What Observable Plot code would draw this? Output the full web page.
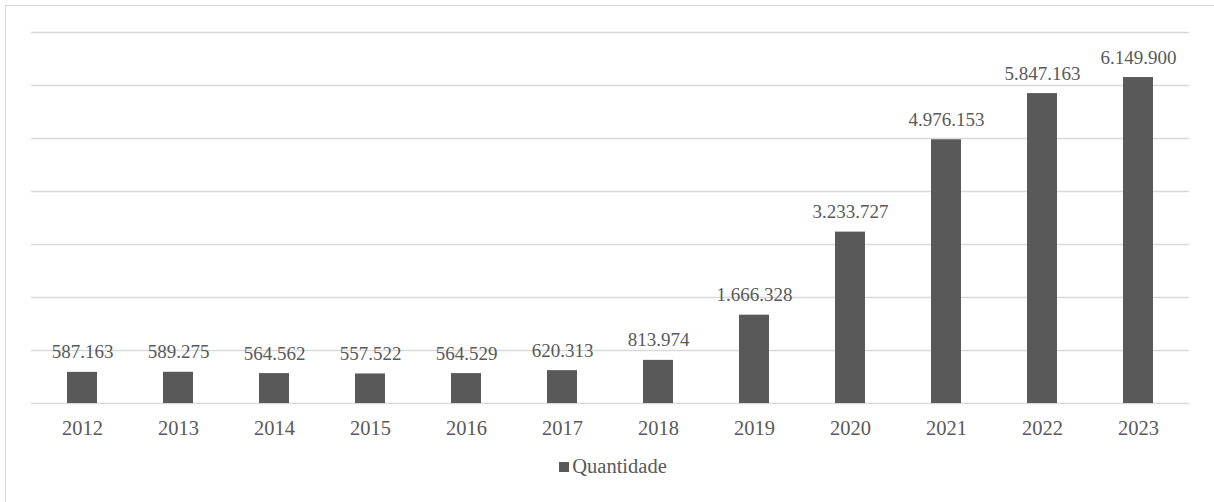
<!DOCTYPE html>
<html>
<head>
<meta charset="utf-8">
<script src="https://cdn.jsdelivr.net/npm/d3@7"></script>
<script src="https://cdn.jsdelivr.net/npm/@observablehq/plot@0.6"></script>
<style>
  html, body { margin: 0; padding: 0; background: #fff; overflow: hidden; }
  #wrap { position: relative; width: 1214px; height: 502px; overflow: hidden; }
  #frame { position: absolute; left: 5px; top: 5px; width: 1300px; height: 600px; border: 1.5px solid #d9d9d9; box-sizing: border-box; }
  #chart { position: absolute; left: 0; top: 0; }
  #legend { position: absolute; left: 0; top: 455px; width: 1226px; text-align: center; font-size: 20.5px; color: #595959;
    font-family: 'Liberation Serif', serif; }
  #legend .sw { display: inline-block; width: 10px; height: 10px; background: #595959; margin-right: 3px; vertical-align: 1px; }
</style>
</head>
<body>
<div id="wrap">
  <div id="frame"></div>
  <div id="chart"></div>
  <div id="legend"><span class="sw"></span><span id="lt"></span></div>
</div>
<script>
const years = ["2012","2013","2014","2015","2016","2017","2018","2019","2020","2021","2022","2023"];
const quantidade = [587163, 589275, 564562, 557522, 564529, 620313, 813974, 1666328, 3233727, 4976153, 5847163, 6149900];
const yTicks = [0, 1000000, 2000000, 3000000, 4000000, 5000000, 6000000, 7000000];
const seriesName = "Quantidade";

const data = years.map((y, i) => ({year: y, value: quantidade[i]}));
const fmt = d3.formatLocale({decimal: ",", thousands: ".", grouping: [3], currency: ["", ""]}).format(",d");

const chart = Plot.plot({
  width: 1214,
  height: 450,
  marginLeft: 31,
  marginRight: 25,
  marginTop: 32,
  marginBottom: 47,
  style: {color: "#595959", background: "transparent", fontFamily: "'Liberation Serif', serif"},
  x: {domain: years, paddingInner: 0.69, paddingOuter: 0.345, label: null},
  y: {domain: [0, 7000000], axis: null},
  marks: [
    Plot.ruleY(yTicks, {stroke: "#d9d9d9", strokeWidth: 1.3}),
    Plot.barY(data, {x: "year", y: "value", fill: "#595959"}),
    Plot.text(data, {x: "year", y: "value", text: d => fmt(d.value), dy: -20, lineAnchor: "middle", fontSize: 19, fill: "#595959"}),
    Plot.axisX({tickSize: 0, tickPadding: 17, fontSize: 20.5, fill: "#595959", label: null})
  ]
});
document.getElementById("chart").appendChild(chart);
document.getElementById("lt").textContent = seriesName;
</script>
</body>
</html>
